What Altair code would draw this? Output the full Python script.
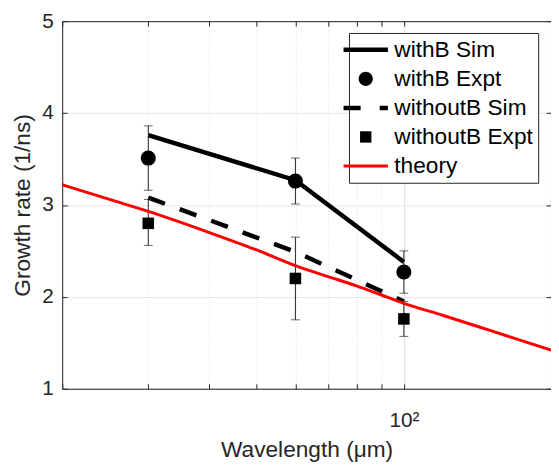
import json
import altair as alt
import pandas as pd

# ---- data ----
wavelength = [30, 60, 100]
withB_sim = [3.76, 3.27, 2.38]
withB_expt = [3.51, 3.26, 2.27]
withB_err_lo = [3.16, 3.01, 2.04]
withB_err_hi = [3.86, 3.51, 2.50]
withoutB_sim = [3.08, 2.49, 1.95]
withoutB_expt = [2.80, 2.20, 1.76]
withoutB_err_lo = [2.56, 1.75, 1.57]
withoutB_err_hi = [3.06, 2.65, 1.95]
theory_wavelength = [20, 25, 30, 40, 50, 60, 70, 80, 90, 100, 120, 150, 200]
theory_rate = [3.22, 3.06, 2.93, 2.70, 2.51, 2.34, 2.22, 2.12, 2.02, 1.93, 1.80, 1.635, 1.42]
x_ticks = [20, 30, 40, 50, 60, 70, 80, 90, 100, 200]
y_ticks = [1, 2, 3, 4, 5]
series_names = ["withB Sim", "withB Expt", "withoutB Sim", "withoutB Expt", "theory"]
series_colors = ["black", "black", "black", "black", "#ff0000"]

# legend symbols drawn as filled unit paths (symbol size 576 -> 12 px per unit)
leg_shapes = [
    "M-1.875,-0.19H1.875V0.19H-1.875Z",
    "M-0.6,0A0.6,0.6,0,1,0,0.6,0A0.6,0.6,0,1,0,-0.6,0Z",
    "M-1.875,-0.19H-0.43V0.19H-1.875ZM1.18,-0.19H1.875V0.19H1.18Z",
    "M-0.48,-0.48H0.48V0.48H-0.48Z",
    "M-1.875,-0.125H1.875V0.125H-1.875Z",
]

def pick(lst):
    return f"{json.dumps(lst)}[indexof({json.dumps(series_names)}, datum.value)]"

sim_b = pd.DataFrame({"wl": wavelength, "rate": withB_sim})
sim_nb = pd.DataFrame({"wl": wavelength, "rate": withoutB_sim})
exp_b = pd.DataFrame({"wl": wavelength, "rate": withB_expt, "lo": withB_err_lo, "hi": withB_err_hi})
exp_nb = pd.DataFrame({"wl": wavelength, "rate": withoutB_expt, "lo": withoutB_err_lo, "hi": withoutB_err_hi})
exp_all = pd.concat([exp_b, exp_nb], ignore_index=True)
theory = pd.DataFrame({"wl": theory_wavelength, "rate": theory_rate, "series": "theory"})

TXT = "#262626"
FONT = "Liberation Sans"
xs = alt.Scale(type="log", domain=[20, 200], nice=False)
ys = alt.Scale(domain=[1, 5], nice=False, zero=False)

inward = {"expr": "-5"}

x_bottom = alt.Axis(
    values=x_ticks, labelExpr="datum.value == 100 ? '10²' : ''", labelOverlap=False,
    title="Wavelength (μm)", grid=True, gridColor="#dcdcdc",
    gridDash={"condition": {"test": "datum.value == 100", "value": []}, "value": [1, 2]},
    tickSize=inward, tickColor=TXT, domainColor=TXT, labelPadding=26,
    labelFontSize=21, titleFontSize=23, labelColor=TXT, titleColor=TXT,
    titleFontWeight="normal", titlePadding=9, labelFont=FONT, titleFont=FONT,
)
y_left = alt.Axis(
    values=y_ticks, format="d", title="Growth rate (1/ns)", grid=True, gridColor="#e6e6e6",
    tickSize=inward, tickColor=TXT, domainColor=TXT, labelPadding=14,
    labelFontSize=21, titleFontSize=23, labelColor=TXT, titleColor=TXT,
    titleFontWeight="normal", titlePadding=8, labelFont=FONT, titleFont=FONT,
)
x_top = alt.Axis(orient="top", values=x_ticks, labels=False, title=None, grid=False,
                 tickSize=inward, tickColor=TXT, domainColor=TXT)
y_right = alt.Axis(orient="right", values=y_ticks, labels=False, title=None, grid=False,
                   tickSize=inward, tickColor=TXT, domainColor=TXT)

def X(axis=None):
    return alt.X("wl:Q", scale=xs, axis=axis)

def Y(axis=None, field="rate:Q"):
    return alt.Y(field, scale=ys, axis=axis)

line_b = alt.Chart(sim_b).mark_line(color="black", strokeWidth=4.5).encode(
    x=X(x_bottom), y=Y(y_left))
line_nb = alt.Chart(sim_nb).mark_line(color="black", strokeWidth=4.5, strokeDash=[18, 16]).encode(
    x=X(), y=Y())
err = alt.Chart(exp_all).mark_rule(color="#222222", strokeWidth=1).encode(
    x=X(), y=Y(field="lo:Q"), y2="hi:Q")
cap_lo = alt.Chart(exp_all).mark_tick(color="#222222", orient="horizontal", size=9, thickness=1).encode(
    x=X(), y=Y(field="lo:Q"))
cap_hi = alt.Chart(exp_all).mark_tick(color="#222222", orient="horizontal", size=9, thickness=1).encode(
    x=X(), y=Y(field="hi:Q"))
pts_b = alt.Chart(exp_b).mark_point(shape="circle", filled=True, opacity=1, color="black", size=234).encode(
    x=X(), y=Y())
pts_nb = alt.Chart(exp_nb).mark_point(shape="square", filled=True, opacity=1, color="black", size=137).encode(
    x=X(), y=Y())

legend = alt.Legend(
    title=None, orient="none", legendX=291, legendY=12,
    symbolSize=576, symbolType={"expr": pick(leg_shapes)},
    symbolFillColor={"expr": pick(series_colors)},
    symbolStrokeWidth=0, symbolOpacity=1,
    labelFontSize=23, labelFont=FONT, labelColor="black",
    labelOffset=17, rowPadding=5.5, padding=5, strokeColor=TXT, fillColor="white",
)
theory_line = alt.Chart(theory).mark_line(strokeWidth=3, clip=True, interpolate="monotone").encode(
    x=X(x_top), y=Y(y_right),
    color=alt.Color("series:N", scale=alt.Scale(domain=series_names, range=series_colors), legend=legend),
)

chart = alt.layer(line_b, line_nb, err, cap_lo, cap_hi, pts_b, pts_nb, theory_line).resolve_axis(
    x="independent", y="independent"
).properties(
    width=496, height=373,
    autosize=alt.AutoSizeParams(type="none"),
    padding={"left": 55, "top": 10, "right": 0, "bottom": 72},
).configure_view(stroke=None).configure(font=FONT)

chart.save("out.html", embed_options={"renderer": "svg", "actions": False})
